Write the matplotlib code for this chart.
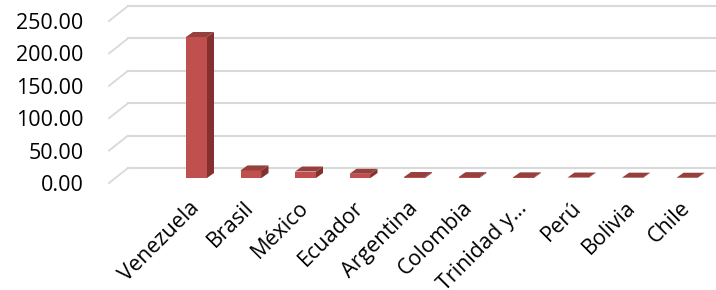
import numpy as np
import matplotlib
matplotlib.use("Agg")
import matplotlib.pyplot as plt
from matplotlib.patches import Polygon

countries = ["Venezuela", "Brasil", "México", "Ecuador", "Argentina", "Colombia",
             "Trinidad y…", "Perú", "Bolivia", "Chile"]
values = [217.6, 11.7, 10.0, 6.5, 1.5, 1.3, 1.0, 0.7, 0.5, 0.4]
yticks = [0, 50, 100, 150, 200, 250]

plt.rcParams['font.family'] = ['Open Sans', 'DejaVu Sans']

W, H = 716, 290
fig = plt.figure(figsize=(W / 100, H / 100), dpi=100)
left_px, right_px, y0_px, y250_px = 109, 716, 183, 21
ax = fig.add_axes([left_px / W, (H - y0_px) / H, (right_px - left_px) / W, (y0_px - y250_px) / H])
slot = 54.5
first_c = 196.5
xl = (left_px - first_c) / slot
xr = (right_px - first_c) / slot
ax.set_xlim(xl, xr)
ax.set_ylim(0, 250)
for s in ax.spines.values():
    s.set_visible(False)

# pixel -> data conversions via the axes transform
p0 = ax.transData.transform((0, 0))
p1 = ax.transData.transform((1, 1))
px_x = p1[0] - p0[0]
px_y = p1[1] - p0[1]

# back wall gridlines
gdx, gdy = 19 / px_x, 15 / px_y
grid_c = '#D9D9D9'
for v in yticks:
    ax.plot([xl, xl + gdx], [v, v + gdy], color=grid_c, lw=1.3, clip_on=False, zorder=1)
    ax.plot([xl + gdx, xr], [v + gdy, v + gdy], color=grid_c, lw=1.5, clip_on=False, zorder=1)

# 3d-ish bars
x = np.arange(len(countries))
bw = 21 / px_x
base = 5 / px_y
ddx, ddy = 7 / px_x, 5 / px_y
front_c, side_c, top_c = '#C0504D', '#84302E', '#96403D'
ax.bar(x, values, width=bw, bottom=base, color=front_c, zorder=3, clip_on=False)
for xi, v in zip(x, values):
    r = xi + bw / 2
    l = xi - bw / 2
    side = Polygon([(r, base), (r + ddx, base + ddy), (r + ddx, base + v + ddy), (r, base + v)],
                   closed=True, facecolor=side_c, edgecolor='none', zorder=3, clip_on=False)
    top = Polygon([(l, base + v), (r, base + v), (r + ddx, base + v + ddy), (l + ddx, base + v + ddy)],
                  closed=True, facecolor=top_c, edgecolor='none', zorder=3, clip_on=False)
    ax.add_patch(side)
    ax.add_patch(top)

ax.set_yticks(yticks)
ax.set_yticklabels(['%.2f' % v for v in yticks], fontsize=15.5, color='black')
ax.tick_params(axis='y', length=0, pad=18.5)
ax.set_xticks([])

for xi, name in zip(x, countries):
    ax.annotate(name, (xi, 0), xytext=(0, -22 * 0.72), textcoords='offset points',
                rotation=45, ha='right', va='center', rotation_mode='anchor',
                fontsize=15.5, annotation_clip=False)

fig.savefig('out.png', dpi=100)
